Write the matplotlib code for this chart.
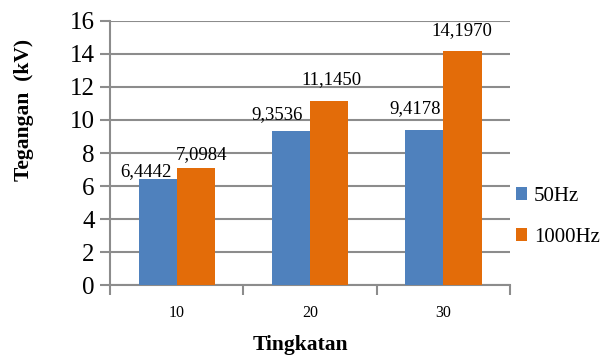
import matplotlib
matplotlib.use("Agg")
import matplotlib.pyplot as plt
import numpy as np

categories = ["10", "20", "30"]
s50 = [6.4442, 9.3536, 9.4178]
s1000 = [7.0984, 11.1450, 14.1970]
lab50 = ["6,4442", "9,3536", "9,4178"]
lab1000 = ["7,0984", "11,1450", "14,1970"]

# label placement offsets (pixels), as manually placed in the original chart
off50 = [(-12, 3), (-14, 12), (-9, 17)]
off1000 = [(6, 9), (2, 17), (-1, 16)]

plt.rcParams['font.family'] = ['Liberation Serif', 'DejaVu Serif']
fig = plt.figure(figsize=(6.08, 3.55), dpi=100)
ax = fig.add_axes([0.181, 0.197, 0.658, 0.744])

x = np.arange(len(categories))
w = 0.286
gc = '#8c8c8c'
ax.bar(x - w/2, s50, w, color='#4f81bd', label='50Hz', zorder=3)
ax.bar(x + w/2, s1000, w, color='#e36c09', label='1000Hz', zorder=3)
for xi, v, l, o in zip(x - w/2, s50, lab50, off50):
    ax.annotate(l, (xi, v), xytext=o, textcoords='offset pixels',
                ha='center', va='baseline', fontsize=13.5, zorder=4)
for xi, v, l, o in zip(x + w/2, s1000, lab1000, off1000):
    ax.annotate(l, (xi, v), xytext=o, textcoords='offset pixels',
                ha='center', va='baseline', fontsize=13.5, zorder=4)

ax.set_xlim(-0.5, 2.5)
ax.set_ylim(0, 16)
ax.set_yticks(range(0, 17, 2))
ax.tick_params(axis='y', labelsize=18, length=7, width=1.5, color=gc, pad=4)
ax.set_xticks([-0.5, 0.5, 1.5, 2.5])
ax.set_xticklabels([])
ax.set_xticks(x, minor=True)
ax.set_xticklabels(categories, minor=True)
ax.tick_params(axis='x', which='major', length=7, width=1.5, color=gc)
ax.tick_params(axis='x', which='minor', length=0, labelsize=11.5, pad=14)
ax.grid(axis='y', color=gc, linewidth=1.5, zorder=0)
for s in ['top', 'right']:
    ax.spines[s].set_visible(False)
for s in ['left', 'bottom']:
    ax.spines[s].set_color(gc)
    ax.spines[s].set_linewidth(1.5)

ax.set_ylabel('Tegangan  (kV)', fontsize=15.5, fontweight='bold', va='center')
ax.yaxis.set_label_coords(-0.215, 0.663)
ax.set_xlabel('Tingkatan', fontsize=15.5, fontweight='bold', va='top')
ax.xaxis.set_label_coords(0.475, -0.19)

ax.legend(loc='center left', bbox_to_anchor=(516 / 608, 1 - 217 / 355),
          bbox_transform=fig.transFigure, frameon=False, borderpad=0,
          borderaxespad=0, fontsize=15, handlelength=0.55, handleheight=0.55,
          handletextpad=0.3, labelspacing=1.05)

fig.savefig('out.png', dpi=100)
